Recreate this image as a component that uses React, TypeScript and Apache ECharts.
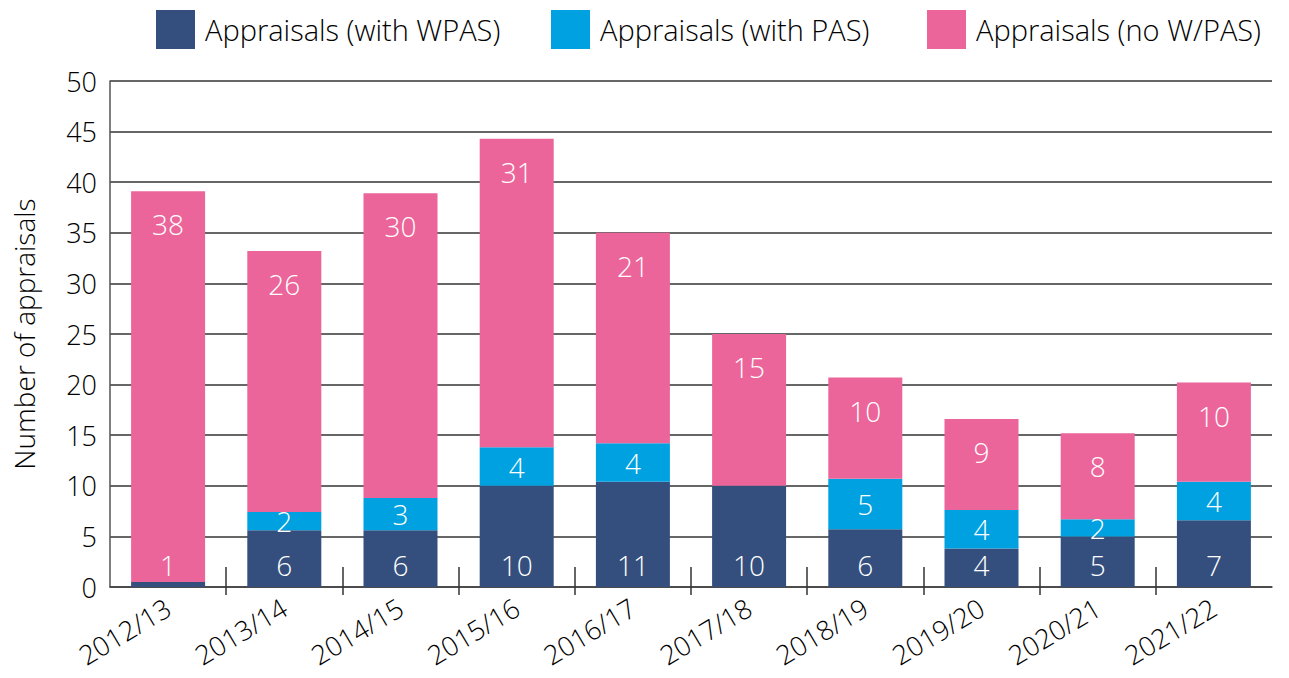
import React, { useEffect, useRef } from "react";
import * as echarts from "echarts";

const categories = [
  "2012/13", "2013/14", "2014/15", "2015/16", "2016/17",
  "2017/18", "2018/19", "2019/20", "2020/21", "2021/22",
];

// bar heights
const wpasValues = [0.5, 5.6, 5.6, 10.0, 10.4, 10.0, 5.7, 3.8, 5.0, 6.6];
const pasValues = [0, 1.8, 3.2, 3.8, 3.8, 0, 5.0, 3.8, 1.7, 3.8];
const noPasValues = [38.6, 25.8, 30.1, 30.5, 20.8, 15.0, 10.0, 9.0, 8.5, 9.8];

// numbers printed on the bars
const wpasLabels = [1, 6, 6, 10, 11, 10, 6, 4, 5, 7];
const pasLabels = [null, 2, 3, 4, 4, null, 5, 4, 2, 4];
const noPasLabels = [38, 26, 30, 31, 21, 15, 10, 9, 8, 10];

const seriesNames = [
  "Appraisals (with WPAS)",
  "Appraisals (with PAS)",
  "Appraisals (no W/PAS)",
];
const colors = ["#344f7e", "#00a1e0", "#eb659a"];

const FONT = "'Open Sans', 'Noto Sans', sans-serif";
const TEXT = "#000000";
const WEIGHT = 300;

export default function App() {
  const ref = useRef<HTMLDivElement>(null);

  useEffect(() => {
    document.body.style.margin = "0";
    if (!ref.current) return;
    const chart = echarts.init(ref.current, null, { renderer: "svg" });

    const labelBase = {
      show: true,
      color: "#ffffff",
      fontSize: 28,
      fontFamily: FONT,
      fontWeight: WEIGHT,
    };

    const mk = (
      i: number,
      values: number[],
      labels: (number | null)[],
      position: string,
      distance: number
    ) => ({
      name: seriesNames[i],
      type: "bar",
      stack: "total",
      barWidth: 74,
      xAxisIndex: 0,
      itemStyle: { color: colors[i] },
      data: values,
      label: {
        ...labelBase,
        position,
        distance,
        formatter: (p: any) => {
          const v = labels[p.dataIndex];
          return v === null || v === undefined ? "" : String(v);
        },
      },
    });

    const legendPos = [156, 551, 927];

    // hidden value axes carrying the between-bar ticks (minor ticks only, no end ticks)
    const tickAxis = (inside: boolean, length: number) => ({
      type: "value",
      min: 0,
      max: categories.length,
      interval: categories.length,
      position: "bottom",
      axisLine: { show: false },
      axisLabel: { show: false },
      splitLine: { show: false },
      axisTick: { show: false, inside },
      minorTick: {
        show: true,
        splitNumber: categories.length,
        length,
        lineStyle: { color: "#333", width: 1.5 },
      },
      minorSplitLine: { show: false },
    });

    chart.setOption({
      animation: false,
      textStyle: { fontFamily: FONT },
      legend: seriesNames.map((n, i) => ({
        data: [n],
        left: legendPos[i],
        top: 10,
        padding: 0,
        itemWidth: 39,
        itemHeight: 39,
        icon: "rect",
        selectedMode: false,
        textStyle: {
          fontSize: 29,
          color: TEXT,
          fontFamily: FONT,
          fontWeight: WEIGHT,
          padding: [0, 0, 0, 5],
        },
      })),
      grid: { left: 110, right: 17, top: 81, bottom: 91, containLabel: false },
      xAxis: [
        {
          type: "category",
          data: categories,
          axisLine: { show: true, lineStyle: { color: "#444", width: 1.5 } },
          axisTick: { show: false },
          axisLabel: {
            rotate: 31,
            margin: 18,
            fontSize: 27,
            color: TEXT,
            fontFamily: FONT,
            fontWeight: WEIGHT,
          },
        },
        tickAxis(true, 20),
        tickAxis(false, 8),
      ],
      yAxis: {
        type: "value",
        min: 0,
        max: 50,
        interval: 5,
        name: "Number of appraisals",
        nameLocation: "middle",
        nameGap: 72,
        nameTextStyle: { fontSize: 28, color: TEXT, fontFamily: FONT, fontWeight: WEIGHT },
        axisLine: { show: true, lineStyle: { color: "#555", width: 1.5 } },
        axisTick: { show: false },
        splitLine: { show: true, lineStyle: { color: "#333", width: 1.5 } },
        axisLabel: {
          fontSize: 27,
          margin: 13,
          color: TEXT,
          fontFamily: FONT,
          fontWeight: WEIGHT,
        },
      },
      series: [
        mk(0, wpasValues, wpasLabels, "insideBottom", 8),
        mk(1, pasValues, pasLabels, "inside", 0),
        mk(2, noPasValues, noPasLabels, "insideTop", 19),
      ],
    });

    return () => chart.dispose();
  }, []);

  return <div ref={ref} style={{ width: 1289, height: 678 }} />;
}
